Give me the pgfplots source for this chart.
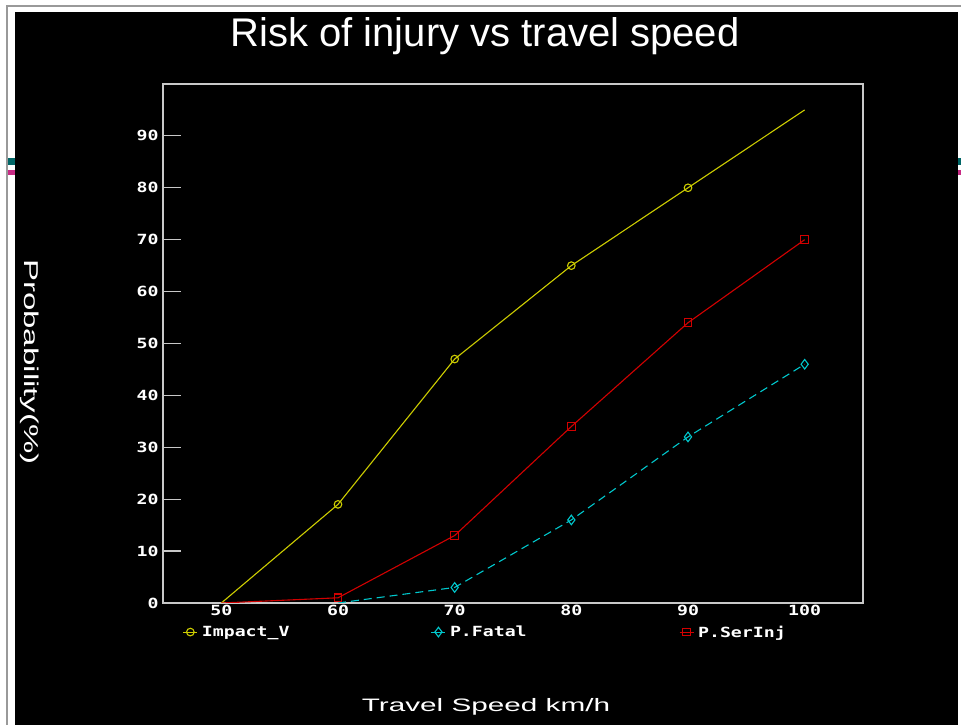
\documentclass[border=0pt]{standalone}
\usepackage{fontspec}
\usepackage{pgfplots}
\pgfplotsset{compat=1.18}
\setmainfont{Liberation Sans}
\newfontfamily\pixfont{DejaVu Sans Mono}[FakeStretch=1.3]
\newfontfamily\widefont{Liberation Sans}[FakeStretch=1.65]
\definecolor{cyel}{RGB}{205,205,0}
\definecolor{ccyan}{RGB}{0,200,205}
\definecolor{cred}{RGB}{210,0,0}
\definecolor{axgray}{RGB}{200,200,200}
\begin{document}
\begin{tikzpicture}[x=1pt,y=1pt]
\useasboundingbox (0pt,0pt) rectangle (961pt,725pt);
\fill[white] (0pt,0pt) rectangle (961pt,725pt);
\draw[gray!80,line width=1.2pt] (7pt,0pt) -- (7pt,719pt) -- (961pt,719pt);
\fill[black] (15pt,0pt) rectangle (958pt,713pt);
\fill[teal!80!black] (8pt,560pt) rectangle (15pt,567pt);
\fill[magenta!80!black] (8pt,550pt) rectangle (15pt,555pt);
\fill[teal!80!black] (958pt,560pt) rectangle (961pt,567pt);
\fill[magenta!80!black] (958pt,550pt) rectangle (961pt,555pt);
\node[text=white,font=\fontsize{40}{44}\selectfont] at (485pt,689pt) {Risk of injury vs travel speed};
\node[text=white,font=\widefont\fontsize{18}{20}\selectfont] at (486pt,18pt) {Travel Speed km/h};
\node[text=white,font=\widefont\fontsize{20}{22}\selectfont,rotate=-90] at (30pt,363pt) {Probability(\%)};
\begin{axis}[
  at={(163pt,122pt)}, anchor=south west,
  width=700pt, height=519pt, scale only axis,
  xmin=45, xmax=105, ymin=0, ymax=100,
  xtick={50,60,...,100}, ytick={0,10,...,90},
  axis line style={axgray, line width=1.2pt},
  tick align=inside, major tick length=18pt,
  ytick pos=left,
  ytick style={axgray, line width=1.2pt},
  xtick style={draw=none},
  /pgf/number format/assume math mode=true,
  ticklabel style={text=white, font=\pixfont\bfseries\fontsize{14}{16}\selectfont},
  xticklabel style={yshift=1pt},
  yticklabel style={xshift=-1pt},
  legend columns=3,
  legend style={draw=none, fill=none, text=white, font=\pixfont\bfseries\fontsize{14}{16}\selectfont,
    at={(axis description cs:0.028,-0.056)}, anchor=west, inner sep=0pt,
    nodes={inner sep=0pt, outer sep=0pt}, column sep=0pt},
  legend image code/.code={\draw[#1, solid, mark=none] (0pt,0pt) -- (14pt,0pt);
    \draw[#1, only marks, mark indices={1}] plot coordinates {(7pt,0pt)};},
  legend cell align=left,
]
\addplot[cyel, line width=1.1pt, mark=o, mark size=3.8pt, mark indices={2,3,4,5}, mark options={solid}]
  coordinates {(50,0) (60,19) (70,47) (80,65) (90,80) (100,95)};
\addlegendentry{\makebox[233pt][l]{\hspace{4pt}Impact\_V}}
\addplot[ccyan, line width=1.1pt, dash pattern=on 8pt off 5pt, mark=diamond, mark size=4.8pt, mark indices={2,3,4,5}, mark options={solid}]
  coordinates {(60,0) (70,3) (80,16) (90,32) (100,46)};
\addlegendentry{\makebox[233pt][l]{\hspace{4pt}P.Fatal}}
\addplot[cred, line width=1.1pt, mark=square, mark size=3.8pt, mark indices={2,3,4,5,6}, mark options={solid}]
  coordinates {(50,0) (60,1) (70,13) (80,34) (90,54) (100,70)};
\addlegendentry{\makebox[100pt][l]{\hspace{4pt}P.SerInj}}
\end{axis}
\end{tikzpicture}
\end{document}
